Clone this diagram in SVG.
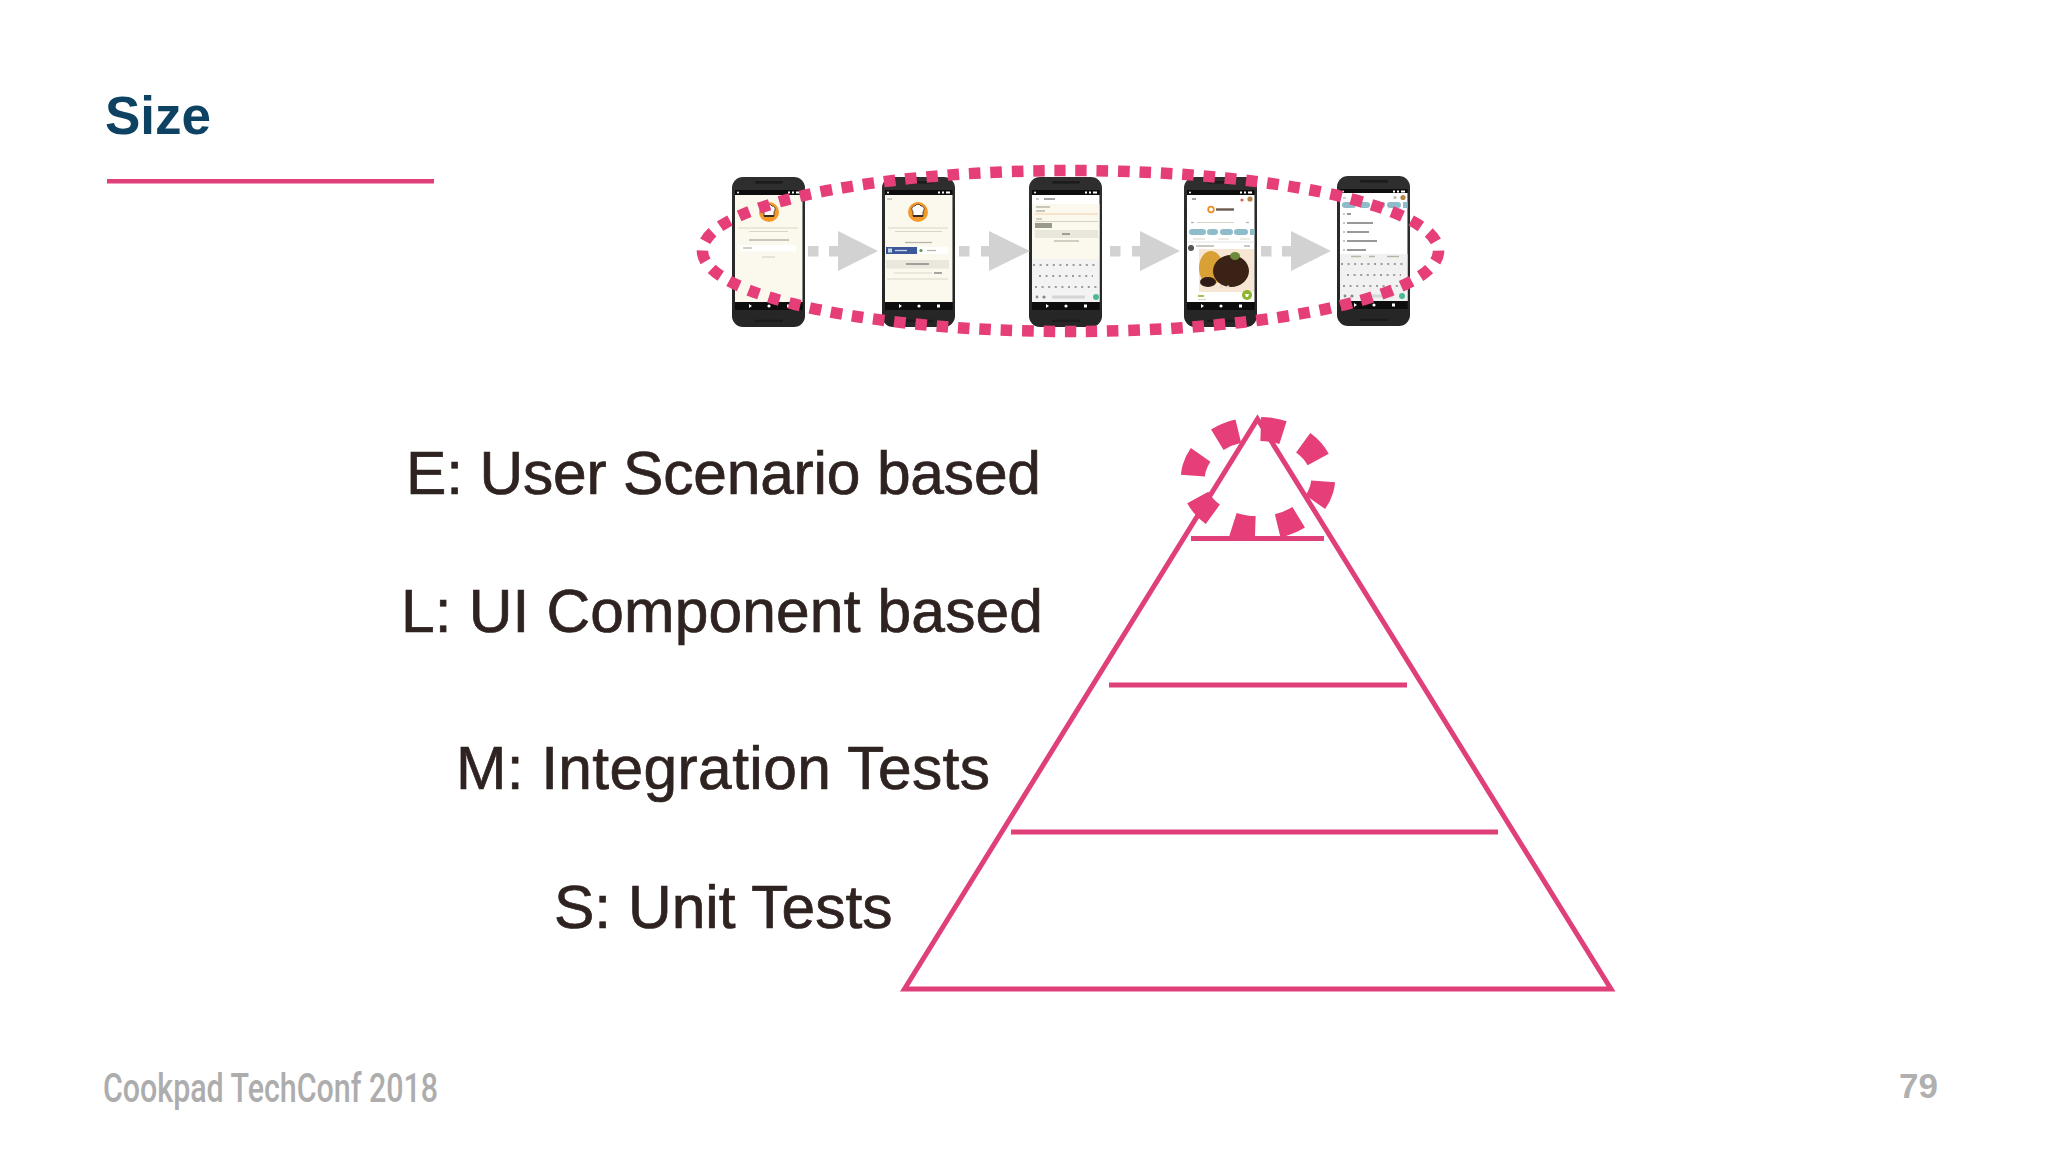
<svg xmlns="http://www.w3.org/2000/svg" width="2048" height="1152" viewBox="0 0 2048 1152">
<style>
.label{font-family:"Liberation Sans",Arial,sans-serif;font-size:60.5px;fill:#2e2320;stroke:#2e2320;stroke-width:.7}
.pink{fill:none;stroke:#e0407a;stroke-width:5;stroke-miterlimit:10}
.arrow{fill:#d2d2d2}
.txt{fill:none;stroke:#b9b6a8;stroke-width:1.3}
.txtl{fill:none;stroke:#d9d6c8;stroke-width:1.2}
.txtd{fill:none;stroke:#777;stroke-width:1.3}
.key{fill:none;stroke:#9a9c9c;stroke-width:2;stroke-dasharray:2 4.6}
.chip{fill:#8fbccb}
.sep{fill:none;stroke:#dcdcdc;stroke-width:.8}
.wd{fill:#fff}
.bk{fill:#0a0a0a}
.phone{filter:url(#soft)}
</style>
<defs>
<filter id="soft" x="-5%" y="-5%" width="110%" height="110%"><feGaussianBlur stdDeviation="0.4"/></filter>
<linearGradient id="bodyG" x1="0" y1="0" x2="0" y2="1">
<stop offset="0" stop-color="#2e2e2e"/><stop offset="1" stop-color="#262626"/>
</linearGradient>
<g id="phoneBody">
<rect x="0" y="0" width="73" height="150" rx="11" fill="url(#bodyG)"/>
<rect x="23" y="4" width="28" height="2.4" rx="1.2" fill="#1a1a1a"/>
<rect x="23" y="142.5" width="28" height="2.4" rx="1.2" fill="#1a1a1a"/>
<rect x="3" y="13" width="67.5" height="120" class="bk"/>
<circle cx="6" cy="15.5" r="1" class="wd"/>
<rect x="56" y="14.5" width="2" height="2" class="wd"/><rect x="60" y="14.5" width="2" height="2" class="wd"/><rect x="64" y="14.5" width="4" height="2" class="wd"/>
<path d="M17,127 l3,2 l-3,2z" class="wd"/>
<circle cx="37" cy="129" r="1.6" class="wd"/>
<rect x="55" y="127.5" width="3" height="3" class="wd"/>
</g>
<g id="chef">
<circle cx="0" cy="0" r="10" fill="#f39a2b"/>
<path d="M-6,-2 a3,3 0 0 1 3,-4 a3.5,3.5 0 0 1 6,0 a3,3 0 0 1 3,4 l-1,2 v4 h-10 v-4z" fill="#fff" stroke="#3a2a20" stroke-width=".8"/>
<rect x="-5" y="3" width="10" height="2" fill="#3a2a20"/>
</g>
<g id="keys">
<path class="key" d="M4,6 H69 M10,17 H64 M6,28 H69"/>
<rect x="23" y="36.5" width="33" height="3" fill="#d4d6d5"/>
<circle cx="8" cy="38" r="1.4" fill="#888"/><circle cx="15" cy="38" r="1.6" fill="#888"/>
</g>
</defs>
<rect width="2048" height="1152" fill="#fff"/>

<g id="title">
<text x="105" y="134" font-family="'Liberation Sans',Arial,sans-serif" font-weight="700" font-size="53" fill="#0e4263">Size</text>
<rect x="107" y="179" width="327" height="4.5" fill="#e0407a"/>
</g>

<g id="phone1" class="phone" transform="translate(732,177)">
<use href="#phoneBody"/>
<rect x="3" y="18" width="67.5" height="107" fill="#fbf9ee"/>
<use href="#chef" x="37" y="35"/>
<path class="txtl" d="M6,51 H66 M17,54.5 H56"/>
<path class="txt" d="M17,63 H57"/>
<rect x="8" y="68" width="56" height="6.5" fill="#fff"/>
<path class="txt" d="M11,71 H20"/>
<path class="txtl" d="M30,80 H43"/>
</g>

<g id="phone2" class="phone" transform="translate(882,177)">
<use href="#phoneBody"/>
<rect x="3" y="18" width="67.5" height="107" fill="#fbf9ee"/>
<path class="txt" d="M5,22 H10"/>
<use href="#chef" x="36" y="35"/>
<path class="txtl" d="M6,51 H66 M13,54.5 H60"/>
<path class="txt" d="M23,65.5 H50"/>
<rect x="4" y="70" width="31" height="7" fill="#3b5998"/>
<rect x="6" y="71.5" width="4" height="4" fill="#c8d2ea"/>
<path d="M13,73.5 H25" fill="none" stroke="#c8d2ea" stroke-width="1.3"/>
<rect x="36" y="70" width="30" height="7" fill="#fff"/>
<circle cx="39" cy="73.5" r="1.6" fill="#5c9c50"/>
<path class="txt" d="M45,73.5 H54"/>
<rect x="4" y="83" width="63" height="8.5" fill="#eae8dc"/>
<path class="txtd" d="M24,87 H47"/>
<path class="txtl" d="M12,96 H50"/>
<path class="txtd" d="M52,96 H60"/>
<path class="txtl" d="M5,102 H66"/>
</g>

<g id="phone3" class="phone" transform="translate(1029,177)">
<use href="#phoneBody"/>
<rect x="3" y="18" width="67.5" height="107" fill="#fff"/>
<rect x="3" y="27" width="67.5" height="55" fill="#fbf9ee"/>
<path class="txt" d="M7,22 H10"/>
<path class="txtd" d="M15,22 H26"/>
<path class="txt" d="M7,30 H21 M7,34 H16"/>
<path d="M6,37 H69" fill="none" stroke="#f3c9a0" stroke-width=".9"/>
<path class="txt" d="M7,42 H13"/>
<path d="M6,44.5 H69" fill="none" stroke="#cfcdbf" stroke-width=".9"/>
<rect x="6" y="46" width="17" height="5" fill="#9a9a8c"/>
<rect x="6" y="53" width="63" height="8" fill="#e9e7db"/>
<path class="txtd" d="M33,57 H41"/>
<path class="txt" d="M25,64 H50"/>
<rect x="3" y="82" width="67.5" height="43" fill="#f2f3f2"/>
<use href="#keys" x="0" y="82"/>
<circle cx="67" cy="120" r="3" fill="#4bb89a"/>
</g>

<g id="phone4" class="phone" transform="translate(1184,177)">
<use href="#phoneBody"/>
<rect x="3" y="18" width="67.5" height="107" fill="#fff"/>
<path class="txtd" d="M8,22 H12"/>
<circle cx="58" cy="23" r="1.6" fill="#d2654f"/><circle cx="66" cy="22" r="2.6" fill="#b88548"/>
<circle cx="27" cy="32.5" r="2.8" fill="none" stroke="#ef8f27" stroke-width="1.8"/>
<path d="M32,32.5 H50" fill="none" stroke="#6a5a50" stroke-width="2.4"/>
<path class="txt" d="M7,45.5 H10"/><path class="txtl" d="M13,45.5 H50"/><path class="txt" d="M62,45.5 H65"/>
<rect x="5" y="52" width="17" height="6" rx="3" class="chip"/>
<rect x="23" y="52" width="11" height="6" rx="3" class="chip"/>
<rect x="36" y="52" width="13" height="6" rx="3" class="chip"/>
<rect x="50" y="52" width="14" height="6" rx="3" class="chip"/>
<rect x="66" y="52" width="4.5" height="6" class="chip"/>
<path class="txtl" d="M9,62 H21 M34,62 H45 M56,62 H66"/>
<path class="sep" d="M3,65 H70.5"/>
<circle cx="7" cy="71" r="3" fill="#555"/>
<path class="txt" d="M12,69 H30 M60,69 H66"/>
<rect x="15" y="72" width="55" height="43" fill="#f8e6d4"/>
<ellipse cx="27" cy="91" rx="12" ry="17" fill="#d9a135"/>
<ellipse cx="47" cy="94" rx="18" ry="16" fill="#3a2118"/>
<ellipse cx="24" cy="105" rx="8" ry="5" fill="#2e1a12"/>
<ellipse cx="51" cy="79" rx="5" ry="4" fill="#6d8a3a"/>
<circle cx="37" cy="110" r="1.4" fill="#e8dcc8"/><circle cx="44" cy="110" r="1.4" fill="#e8dcc8"/>
<path d="M14,119 H20" fill="none" stroke="#8db52e" stroke-width="1.6"/>
<path class="txtl" d="M14,122.5 H22"/>
<circle cx="63" cy="118" r="5" fill="#8db52e"/>
<path d="M61,117 h4 l-1,3 h-2z" fill="#fff"/>
</g>

<g id="phone5" class="phone" transform="translate(1337,176)">
<use href="#phoneBody"/>
<rect x="3" y="17" width="67.5" height="108" fill="#fff"/>
<path class="txt" d="M6,22 H9"/>
<circle cx="58" cy="21.5" r="1.6" fill="#bbb"/><circle cx="66" cy="21.5" r="2.6" fill="#b88548"/>
<rect x="5" y="26" width="14" height="6" rx="3" class="chip"/>
<rect x="22" y="26" width="11" height="6" rx="3" class="chip"/>
<rect x="36" y="26" width="12" height="6" rx="3" class="chip"/>
<rect x="50" y="26" width="14" height="6" rx="3" class="chip"/>
<rect x="66" y="26" width="4.5" height="6" class="chip"/>
<path class="txt" d="M6,38 H8 M6,47 H8 M6,56 H8 M6,65 H8 M6,74 H8"/>
<path class="txtd" d="M10,38 H14 M10,47 H36 M10,56 H32 M10,65 H40 M10,74 H29"/>
<rect x="3" y="78" width="67.5" height="47" fill="#f0f1f0"/>
<path class="txt" d="M14,80.5 H24 M32,80.5 H38 M50,80.5 H62"/>
<use href="#keys" x="0" y="82"/>
<circle cx="65" cy="120" r="3" fill="#4bb89a"/>
</g>

<g id="connectors">
<g id="arrow1" class="arrow"><rect x="808" y="246" width="10.5" height="10.5"/><rect x="829" y="246" width="10" height="10.5"/><path d="M838,231 L878,251 L838,271z"/></g>
<g id="arrow2" class="arrow"><rect x="959" y="246" width="10.5" height="10.5"/><rect x="981" y="246" width="10" height="10.5"/><path d="M989,231 L1030,251 L989,271z"/></g>
<g id="arrow3" class="arrow"><rect x="1110" y="246" width="10.5" height="10.5"/><rect x="1132" y="246" width="10" height="10.5"/><path d="M1140,231 L1180,251 L1140,271z"/></g>
<g id="arrow4" class="arrow"><rect x="1261" y="246" width="10.5" height="10.5"/><rect x="1282" y="246" width="10" height="10.5"/><path d="M1291,231 L1331,251 L1291,271z"/></g>
</g>

<path id="scenario-ellipse" d="M1060,170.53 A368,80.5 0 0 1 1081,331.47 A368,80.5 0 0 1 1060,170.53Z" fill="none" stroke="#e63e78" stroke-width="11.5" pathLength="730" stroke-dasharray="5.4 4.6" stroke-dashoffset="2.7"/>

<g id="labels">
<text class="label" x="406" y="494" textLength="635">E: User Scenario based</text>
<text class="label" x="401" y="632" textLength="642">L: UI Component based</text>
<text class="label" x="456" y="789" textLength="534">M: Integration Tests</text>
<text class="label" x="554" y="928">S: Unit Tests</text>
</g>

<g id="pyramid">
<path class="pink" d="M1257.5,419 L1611,989 H904.5Z"/>
<path class="pink" d="M1191,538.5 H1324 M1109,685 H1407 M1011,832 H1498"/>
<path id="top-circle" d="M1272,430 A65,49.5 0 0 1 1244,527 A65,49.5 0 0 1 1272,430Z" fill="none" stroke="#e63e78" stroke-width="24" pathLength="800" stroke-dasharray="50 50" stroke-dashoffset="25"/>
</g>

<g id="footer">
<text x="103" y="1102" font-family="Roboto,'Liberation Sans',sans-serif" font-weight="500" font-size="40" fill="#adadad" textLength="335" lengthAdjust="spacingAndGlyphs">Cookpad TechConf 2018</text>
<text x="1899" y="1098" font-family="'Liberation Sans',Arial,sans-serif" font-weight="700" font-size="35" fill="#b0b0b0">79</text>
</g>
</svg>
